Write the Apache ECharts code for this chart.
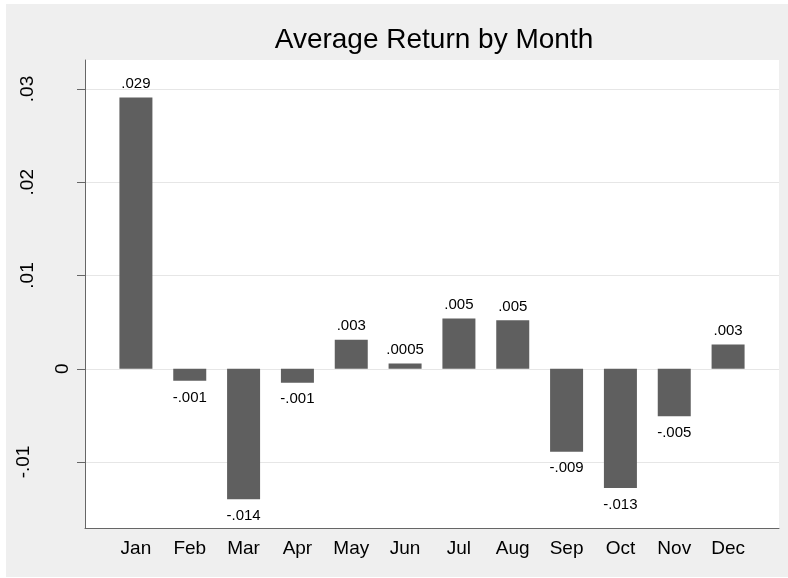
<!DOCTYPE html>
<html>
<head>
<meta charset="utf-8">
<script src="https://cdn.jsdelivr.net/npm/echarts@6/dist/echarts.min.js"></script>
<style>
  html, body { margin: 0; padding: 0; background: #efefef; overflow: hidden; }
  #wrap { position: relative; width: 788px; height: 578px; }
  #chart { position: absolute; left: 0; top: 0; width: 788px; height: 578px; }
  #frame { position: absolute; left: 0; top: 0; width: 788px; height: 578px; box-sizing: border-box;
           border-left: 6px solid #fff; border-top: 4px solid #fff; border-bottom: 1px solid #fff; pointer-events: none; }
</style>
</head>
<body>
<div id="wrap"><div id="chart"></div><div id="frame"></div></div>
<script>
const months = ['Jan','Feb','Mar','Apr','May','Jun','Jul','Aug','Sep','Oct','Nov','Dec'];
const avgReturn = [0.0291, -0.0013, -0.0140, -0.0015, 0.0031, 0.00055, 0.0054, 0.0052, -0.0089, -0.0128, -0.0051, 0.0026];
const valueLabels = ['.029','-.001','-.014','-.001','.003','.0005','.005','.005','-.009','-.013','-.005','.003'];
const yTicks = [-0.01, 0, 0.01, 0.02, 0.03];
const yTickLabels = ['-.01','0','.01','.02','.03'];

const FONT = '"Liberation Sans", Arial, Helvetica, sans-serif';
const AXIS_COLOR = '#666666';
const GRID_COLOR = '#e6e6e6';
const BAR_COLOR = '#5f5f5f';

function tickLabel(v, allowed) {
  for (let i = 0; i < yTicks.length; i++) {
    if (Math.abs(yTicks[i] - v) < 1e-9) {
      return allowed.indexOf(yTickLabels[i]) >= 0 ? yTickLabels[i] : '';
    }
  }
  return '';
}

function labelAxis(allowed, margin, withTicks) {
  return {
    gridIndex: 1, type: 'value', min: -0.01, max: 0.03, interval: 0.01, position: 'left',
    axisLine: { show: false },
    axisTick: { show: withTicks, length: 8, lineStyle: { color: AXIS_COLOR, width: 1 } },
    splitLine: { show: withTicks, lineStyle: { color: GRID_COLOR, width: 1 } },
    axisLabel: {
      show: true, rotate: 90, margin: margin, color: '#000', fontSize: 19, fontFamily: FONT,
      formatter: v => tickLabel(v, allowed)
    }
  };
}

const chart = echarts.init(document.getElementById('chart'), null, { renderer: 'canvas' });
chart.setOption({
  backgroundColor: '#efefef',
  animation: false,
  title: {
    text: 'Average Return by Month', left: 434, top: 26, padding: 0, textAlign: 'center',
    textStyle: { fontSize: 28, fontWeight: 'normal', color: '#000', fontFamily: FONT }
  },
  grid: [
    { left: 85, top: 60, width: 694, height: 468, show: true, backgroundColor: '#ffffff', borderWidth: 0 },
    { left: 85, top: 89, width: 694, height: 373 },
    { left: 109, top: 60, width: 646, height: 468 }
  ],
  xAxis: [
    { gridIndex: 0, type: 'value', min: 0, max: 1, position: 'bottom',
      axisLine: { show: true, onZero: false, lineStyle: { color: AXIS_COLOR, width: 1 } },
      axisTick: { show: false }, axisLabel: { show: false }, splitLine: { show: false } },
    { gridIndex: 1, type: 'value', min: 0, max: 1, show: false },
    { gridIndex: 2, type: 'category', data: months,
      axisLine: { show: false }, axisTick: { show: false }, splitLine: { show: false },
      axisLabel: { margin: 11, color: '#000', fontSize: 19, fontFamily: FONT, interval: 0 } }
  ],
  yAxis: [
    { gridIndex: 0, type: 'value', min: 0, max: 1, position: 'left',
      axisLine: { show: true, onZero: false, lineStyle: { color: AXIS_COLOR, width: 1 } },
      axisTick: { show: false }, axisLabel: { show: false }, splitLine: { show: false } },
    labelAxis(['0'], 13, true),
    labelAxis(['.01', '.02', '.03'], 48, false),
    labelAxis(['-.01'], 52, false),
    { gridIndex: 2, type: 'value', min: -0.017078, max: 0.03311, show: false }
  ],
  series: [{
    type: 'bar', xAxisIndex: 2, yAxisIndex: 4, barWidth: 33,
    itemStyle: { color: BAR_COLOR },
    data: avgReturn.map((v, i) => ({
      value: v,
      label: {
        show: true, formatter: valueLabels[i],
        position: v >= 0 ? 'top' : 'bottom', distance: v >= 0 ? 6 : 9,
        color: '#000', fontSize: 15, fontFamily: FONT
      }
    }))
  }]
});
</script>
</body>
</html>
